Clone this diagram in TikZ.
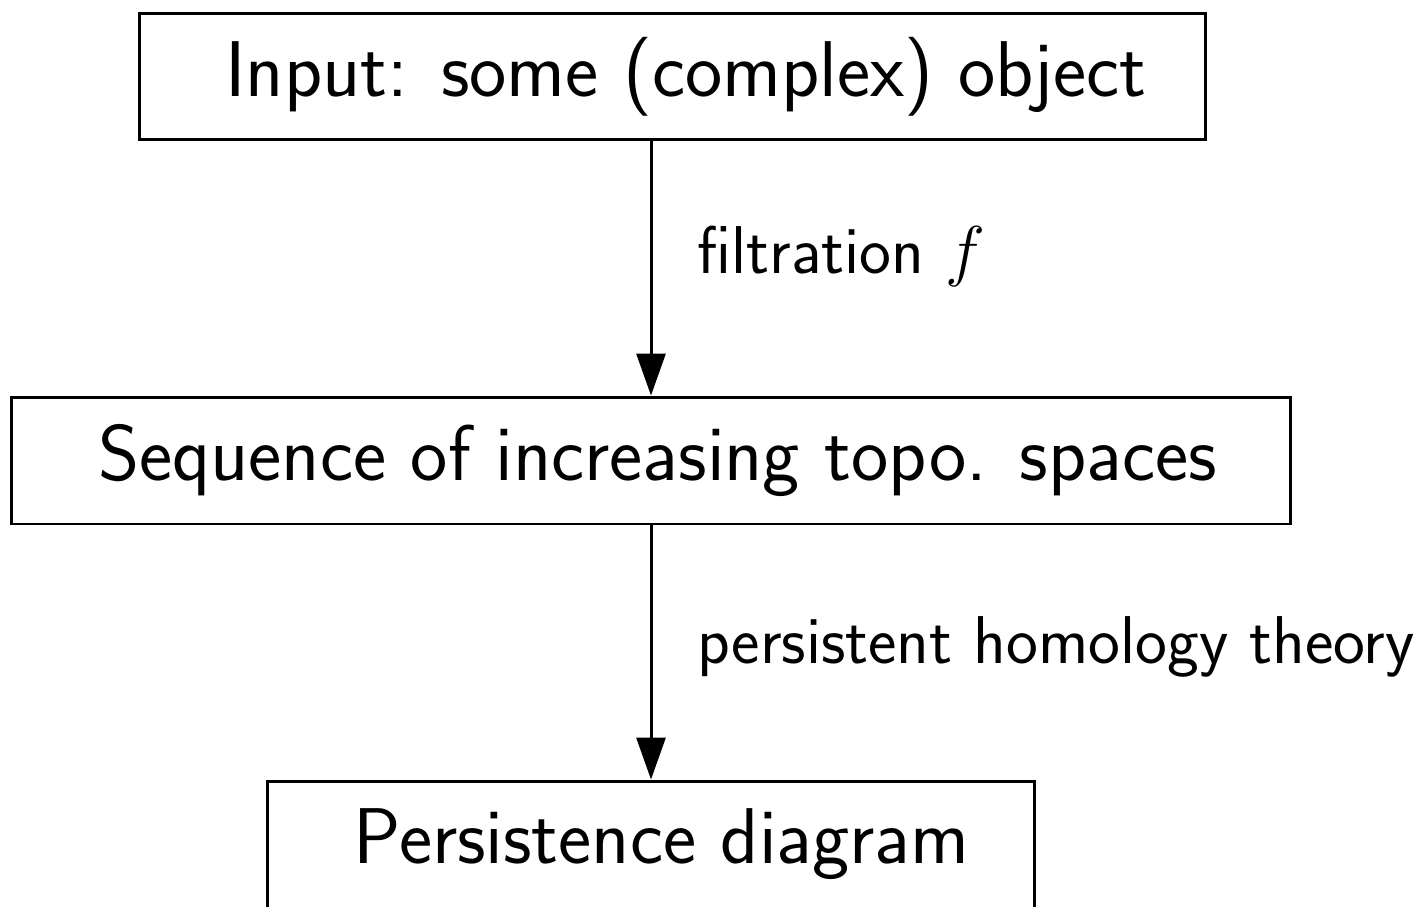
\RequirePackage{fix-cm}
\documentclass[tikz,border=0pt]{standalone}
\usetikzlibrary{arrows.meta}
\renewcommand{\familydefault}{\sfdefault}
\begin{document}
\begin{tikzpicture}[x=0.02cm,y=-0.02cm,
  stagebox/.style={draw, line width=1.7pt, minimum height=2.54cm, inner xsep=0pt,
    font=\fontsize{45}{54}\selectfont},
  flow/.style={line width=1.7pt, -{Triangle[width=0.58cm,length=0.84cm]}},
  steplabel/.style={anchor=base west, inner sep=0pt, font=\fontsize{38.5}{46}\selectfont}]
\useasboundingbox (0,0) rectangle (1416,906);
% the three stages of the pipeline
\node[stagebox, minimum width=21.34cm] (input) at (672.5,76.5) {\hspace*{0.54cm}Input: some (complex) object};
\node[stagebox, minimum width=25.6cm] (seq) at (651,460.5) {\hspace*{0.26cm}Sequence of increasing topo. spaces};
\node[stagebox, minimum width=15.36cm] (pd) at (651,844.5) {\hspace*{0.42cm}Persistence diagram};
% arrows between the stages
\draw[flow] (input.south -| seq.north) -- (seq.north);
\draw[flow] (seq.south) -- (pd.north);
% labels of the arrows
\node[steplabel] (l1) at (697,273) {filtration $f$};
\node[steplabel] (l2) at (697,663) {persistent homology theory};
\end{tikzpicture}
\end{document}
